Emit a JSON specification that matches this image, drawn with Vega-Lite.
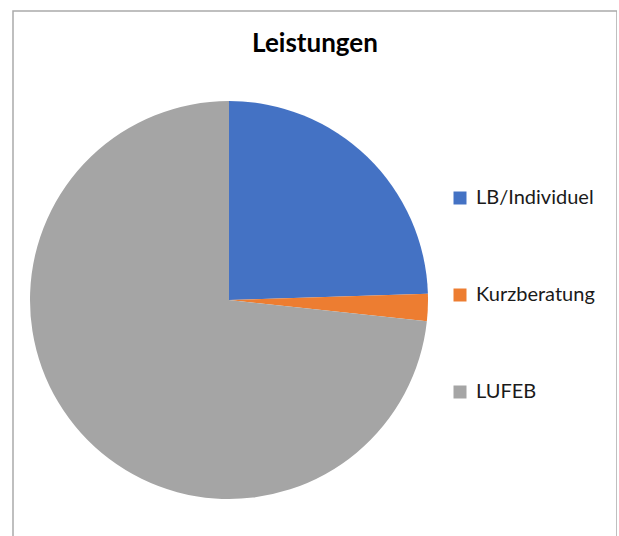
{
  "$schema": "https://vega.github.io/schema/vega-lite/v6.json",
  "autosize": "none",
  "padding": {"left": 13, "top": 11, "right": 0, "bottom": 0},
  "width": 604,
  "height": 540,
  "background": "white",
  "title": {
    "text": "Leistungen",
    "font": "Lato",
    "fontSize": 26,
    "fontWeight": "bold",
    "color": "#000000",
    "anchor": "middle",
    "baseline": "alphabetic",
    "offset": -68
  },
  "layer": [
    {
      "data": {"values": [{"Rahmen": "Diagrammbereich"}]},
      "mark": {"type": "rect", "fill": "white", "stroke": "#aaaaaa", "strokeWidth": 1.5},
      "encoding": {}
    },
    {
      "data": {
        "values": [
          {"Kategorie": "LB/Individuel", "Anteil": 24.5, "Reihenfolge": 1},
          {"Kategorie": "Kurzberatung", "Anteil": 2.2, "Reihenfolge": 2},
          {"Kategorie": "LUFEB", "Anteil": 73.3, "Reihenfolge": 3}
        ]
      },
      "mark": {"type": "arc", "radius": 199, "xOffset": -86, "yOffset": 19},
      "encoding": {
        "theta": {"field": "Anteil", "type": "quantitative", "stack": true},
        "order": {"field": "Reihenfolge", "type": "quantitative"},
        "color": {
          "field": "Kategorie",
          "type": "nominal",
          "sort": null,
          "scale": {
            "domain": ["LB/Individuel", "Kurzberatung", "LUFEB"],
            "range": ["#4472C4", "#ED7D31", "#A5A5A5"]
          },
          "legend": {
            "title": null,
            "orient": "none",
            "legendX": 437,
            "legendY": 177,
            "symbolType": "square",
            "symbolSize": 169,
            "symbolStrokeWidth": 0,
            "labelFont": "Lato",
            "labelFontSize": 20,
            "labelColor": "#1a1a1a",
            "labelOffset": 6,
            "rowPadding": 77
          }
        }
      }
    }
  ]
}
